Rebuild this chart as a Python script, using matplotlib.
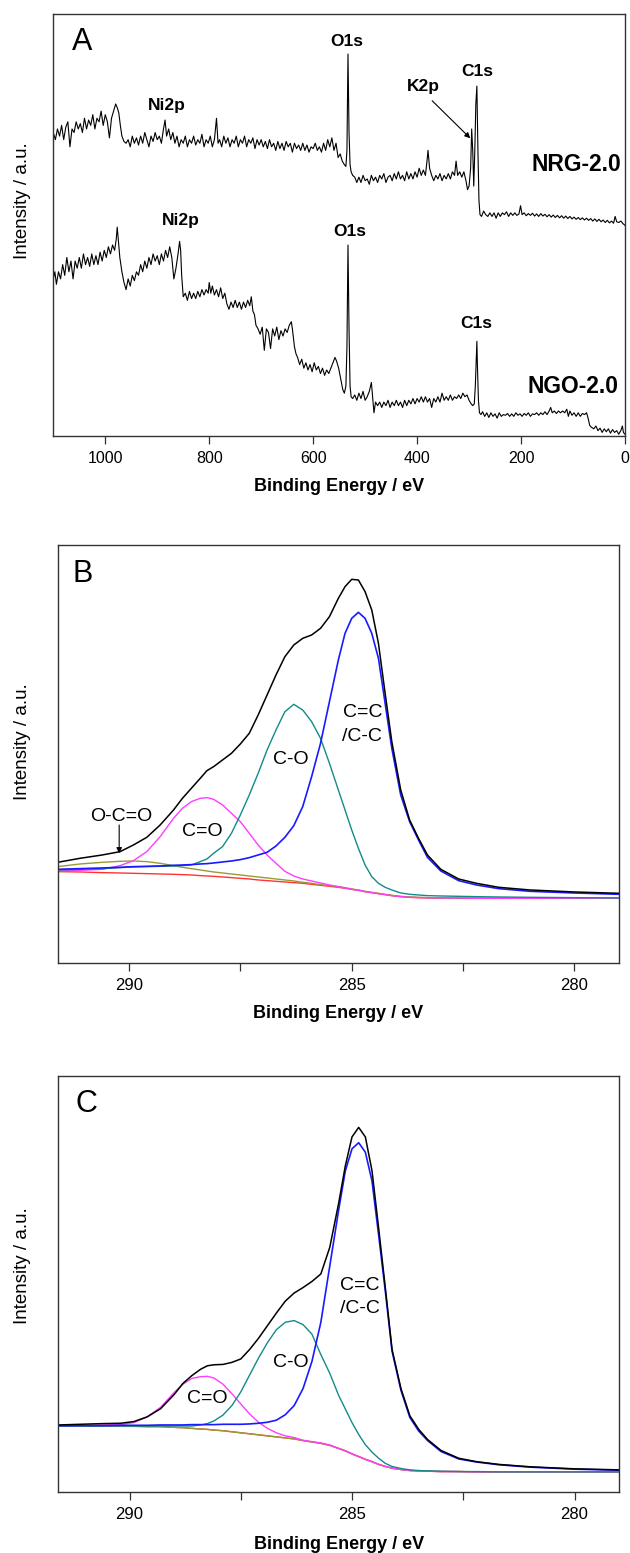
import matplotlib
matplotlib.use('Agg')
import matplotlib.pyplot as plt

plt.rcParams['font.family'] = ['Liberation Sans', 'DejaVu Sans']

# ---------------- Panel A data: XPS survey spectra (E in eV, intensity a.u.) ----------------
NRG_SURVEY = [
    (1100, 85), (1096, 83), (1092, 86), (1088, 84), (1084, 87), (1080, 83), (1076, 86.5), (1072, 88),
    (1068, 81), (1064, 86), (1060, 85), (1056, 88), (1052, 86), (1048, 87.5), (1044, 85), (1040, 89),
    (1036, 86), (1032, 88.5), (1028, 87), (1024, 90), (1020, 86), (1016, 89), (1012, 88), (1008, 91),
    (1004, 87), (1000, 90), (996, 88), (992, 83.5), (988, 89), (984, 91), (980, 93), (977, 92),
    (974, 90.5), (971, 87), (968, 84), (964, 82.5), (960, 82),
    (956, 83), (952, 81), (948, 84), (944, 82), (940, 83.5), (936, 81.5), (932, 84), (928, 82),
    (924, 85), (920, 83), (916, 81), (912, 84), (908, 82.5), (904, 85), (900, 83), (896, 84),
    (892, 82), (888, 86), (885, 88.5), (882, 84), (878, 86), (874, 83), (870, 85), (866, 82),
    (862, 84), (858, 81), (854, 83), (850, 82), (846, 84), (842, 81), (838, 83), (834, 82),
    (830, 84), (826, 81.5), (822, 83), (818, 82), (814, 84.5), (810, 81), (806, 83), (802, 82),
    (798, 84), (794, 81), (790, 83), (786, 89), (783, 82), (780, 83), (776, 81), (772, 84),
    (768, 82), (764, 83.5), (760, 81), (756, 83), (752, 82), (748, 84), (744, 81), (740, 83),
    (736, 82), (732, 84), (728, 81), (724, 83), (720, 82), (716, 83.5), (712, 80.5), (708, 83),
    (704, 81.5), (700, 83), (696, 81), (692, 82.5), (688, 80.5), (684, 83), (680, 81), (676, 82),
    (672, 80), (668, 82.5), (664, 80.5), (660, 82), (656, 80), (652, 82.5), (648, 81), (644, 82),
    (640, 79.5), (636, 82), (632, 80.5), (628, 81.5), (624, 80), (620, 82), (616, 80), (612, 81.5),
    (608, 79.5), (604, 81), (600, 80.5), (596, 82), (592, 80), (588, 81), (584, 79.5), (580, 82),
    (576, 80), (572, 83), (568, 81), (564, 83.5), (560, 80), (556, 82), (552, 78), (548, 79),
    (544, 77), (540, 76), (537, 75.5), (535, 80), (533, 107), (531, 85), (529, 76), (527, 74),
    (524, 73), (520, 72.5), (516, 71), (512, 72.5), (508, 71), (504, 73), (500, 71.5), (496, 72),
    (492, 70.5), (488, 73), (484, 71.5), (480, 72.5), (476, 71), (472, 73), (468, 72), (464, 73.5),
    (460, 71), (456, 72.5), (452, 73), (448, 71.5), (444, 73.5), (440, 72), (436, 74), (432, 72),
    (428, 73), (424, 71.5), (420, 74), (416, 72), (412, 73.5), (408, 72), (404, 74), (400, 72.5),
    (396, 75), (392, 73), (388, 74.5), (384, 73), (381, 77), (379, 80), (376, 75), (372, 73),
    (368, 71.5), (364, 73), (360, 72), (356, 73.5), (352, 71.5), (348, 73), (344, 72), (340, 73.5),
    (336, 72), (332, 74), (328, 73), (325, 77), (322, 73), (318, 74), (314, 72.5), (310, 74),
    (306, 71.5), (303, 69), (300, 70), (297, 75), (295, 86), (293, 80), (291, 70), (289, 80),
    (287, 93), (285, 98), (283, 80), (281, 66), (279, 62), (276, 61.5), (272, 63), (268, 62),
    (264, 61.5), (260, 62.5), (256, 61.5), (252, 62.5), (248, 61), (244, 62.5), (240, 61.5),
    (236, 62.5), (232, 62), (228, 62.8), (224, 61.5), (220, 62.5), (216, 61.8), (212, 62.5),
    (208, 61.8), (204, 62.2), (201, 64.5), (198, 62), (194, 62.5), (190, 61.7), (186, 62.3),
    (182, 61.8), (178, 62.4), (174, 61.6), (170, 62.2), (166, 61.5), (162, 62.3), (158, 61.6),
    (154, 62.1), (150, 61.4), (146, 62), (142, 61.3), (138, 61.9), (134, 61.2), (130, 61.8),
    (126, 61.1), (122, 61.7), (118, 61), (114, 61.6), (110, 60.9), (106, 61.5), (102, 60.8),
    (98, 61.3), (94, 60.7), (90, 61.2), (86, 60.6), (82, 61.1), (78, 60.5), (74, 61), (70, 60.4),
    (66, 60.9), (62, 60.2), (58, 60.8), (54, 60.1), (50, 60.7), (46, 60), (42, 60.5), (38, 59.8),
    (34, 60.4), (30, 59.7), (26, 60.2), (22, 59.6), (19, 61.5), (16, 60), (12, 59.8), (8, 60.2),
    (4, 59.5), (0, 59),
]

NGO_SURVEY = [
    (1100, 44), (1097, 46), (1094, 42.5), (1090, 46), (1086, 44), (1082, 48), (1078, 45), (1074, 50),
    (1070, 46), (1066, 49), (1062, 44), (1058, 49), (1054, 47), (1050, 50), (1046, 47), (1042, 51),
    (1038, 48), (1034, 50), (1030, 47.5), (1026, 51), (1022, 48), (1018, 50.5), (1014, 48),
    (1010, 51.5), (1006, 49), (1002, 52), (998, 50), (994, 53), (990, 51), (986, 53.5), (982, 52),
    (979, 55), (977, 58.5), (975, 55), (972, 50), (968, 46), (964, 43), (960, 41), (956, 44),
    (952, 42), (948, 45), (944, 43.5), (940, 46), (936, 45), (932, 48), (928, 46), (924, 49),
    (920, 47), (916, 50), (912, 48), (908, 51), (904, 49), (900, 50.5), (896, 48), (892, 51),
    (888, 49), (884, 52), (880, 50), (876, 53), (872, 50), (868, 44), (864, 47), (860, 51),
    (857, 54.5), (855, 52), (853, 45), (850, 39), (846, 40), (842, 38), (838, 40.5), (834, 38.5),
    (830, 40), (826, 38.5), (822, 40.5), (818, 39), (814, 41), (810, 39.5), (806, 41), (802, 40),
    (800, 43), (797, 40), (794, 42), (790, 39.5), (786, 41), (782, 39), (778, 41.5), (774, 38.5),
    (770, 40), (766, 37), (762, 35.5), (758, 37.5), (754, 36), (750, 38), (746, 36), (742, 37.5),
    (738, 35.5), (734, 37.5), (730, 36), (726, 38), (722, 36.5), (719, 39), (716, 35), (713, 34),
    (710, 31), (706, 30), (702, 28.5), (698, 30.5), (694, 24), (690, 30), (686, 29), (682, 24.5),
    (678, 30), (674, 28), (670, 30.5), (666, 27), (662, 29.5), (658, 28), (654, 30), (650, 29),
    (646, 31), (642, 32), (640, 30), (636, 25), (633, 23), (630, 22), (626, 20), (622, 21.5),
    (618, 19), (614, 20.5), (610, 18.5), (606, 20), (602, 18), (598, 20.5), (594, 18.5),
    (590, 19.5), (586, 17.5), (582, 19), (578, 17), (574, 18.5), (570, 17.5), (566, 19),
    (562, 20.5), (558, 22), (555, 21), (551, 19), (547, 16), (543, 13), (540, 12), (537, 14),
    (535, 25), (533, 53.5), (531, 30), (529, 14), (527, 11), (524, 10.5), (520, 11.5), (516, 10),
    (512, 12), (508, 10.5), (504, 12.5), (500, 10), (496, 11), (492, 12.5), (488, 15), (485, 10),
    (483, 6.5), (480, 9.5), (476, 8.5), (472, 9.5), (468, 8), (464, 9.5), (460, 8.5), (456, 10),
    (452, 8), (448, 9.5), (444, 8.5), (440, 10), (436, 8.5), (432, 9.5), (428, 8), (424, 10),
    (420, 8.5), (416, 10), (412, 9), (408, 10.5), (404, 9), (400, 10.5), (396, 9.5), (392, 11),
    (388, 9.5), (384, 11), (380, 9.5), (376, 10.5), (372, 8), (368, 10.5), (364, 9.5), (360, 11),
    (356, 9.5), (352, 12), (348, 10), (344, 11), (340, 10), (336, 11.5), (332, 10), (328, 11),
    (324, 10.5), (320, 11.5), (316, 10.5), (312, 12), (308, 11), (304, 11.5), (300, 10), (296, 9),
    (293, 8.5), (290, 9), (288, 14), (286, 22), (285, 26.5), (284, 20), (282, 10), (280, 6.5),
    (277, 6), (274, 6.8), (270, 5.5), (266, 6.5), (262, 5.2), (258, 6.5), (254, 5.5), (250, 6.2),
    (246, 5), (242, 6.5), (238, 5.5), (234, 6), (230, 5.8), (226, 6.3), (222, 5.5), (218, 6.2),
    (214, 5.5), (210, 6.5), (206, 5.8), (202, 6.2), (198, 5.5), (194, 6.3), (190, 5.8), (186, 6.5),
    (182, 5.5), (178, 6.2), (174, 6), (170, 6.5), (166, 5.8), (162, 6.5), (158, 6), (154, 6.8),
    (150, 6), (146, 7), (143, 8), (140, 6.5), (136, 7), (132, 6.3), (128, 7), (124, 6.5), (120, 7),
    (116, 6.5), (112, 7.5), (109, 5.5), (106, 7), (102, 5.8), (98, 6.5), (94, 5.5), (90, 6.5),
    (86, 5.5), (82, 6.3), (78, 6), (74, 6.5), (71, 5), (68, 3), (65, 2.5), (60, 2), (56, 2.8),
    (52, 1.5), (48, 2.2), (44, 1), (40, 2), (36, 1.2), (32, 2), (28, 0.8), (24, 1.8), (20, 1),
    (16, 1.5), (12, 0.5), (8, 1.5), (5, 2.8), (3, 1), (0, 0.5),
]

A_TICKS = [1000, 800, 600, 400, 200, 0]

# ---------------- Panels B and C: C1s peak fits (shared energy grid) ----------------
E_C1S = [291.6, 291.1, 290.6, 290.2, 289.9, 289.6, 289.3, 289.0, 288.8, 288.6, 288.4, 288.25,
         288.1, 287.9, 287.7, 287.5, 287.3, 287.1, 286.9, 286.7, 286.5, 286.3, 286.1, 285.9,
         285.7, 285.5, 285.3, 285.15, 285.0, 284.85, 284.7, 284.55, 284.4, 284.25, 284.1, 283.9,
         283.7, 283.5, 283.3, 283.0, 282.6, 282.2, 281.7, 281.0, 280.0, 279.0]

B_ENVELOPE = [30.3, 31.5, 32.5, 33.5, 35.5, 37.8, 41.5, 46, 49.5, 52.5, 55.5, 57.8,
              59, 61, 63, 65.8, 69, 74.5, 80.5, 86.5, 92, 95.5, 97.5, 98.5,
              100.5, 104, 109.5, 113, 115.2, 115, 111.5, 106, 96, 81, 66.5, 52,
              43, 37.5, 32.5, 28.2, 25.3, 24, 22.8, 22.0, 21.4, 21.0]
B_CC = [28.2, 28.4, 28.6, 28.8, 29, 29.1, 29.2, 29.4, 29.5, 29.6, 29.8, 29.9,
        30.1, 30.4, 30.7, 31.1, 31.7, 32.5, 33.3, 35.2, 37.8, 41.3, 47, 56,
        66, 78.5, 91, 99, 103.5, 105.3, 103.5, 99, 91.5, 78, 64.5, 50.5,
        42.5, 37, 31.8, 27.7, 24.8, 23.5, 22.4, 21.6, 21.1, 20.7]
B_CO = [28, 28.2, 28.4, 28.7, 28.9, 29, 29.1, 29.2, 29.3, 29.5, 30.5, 31.3,
        33, 35, 39, 44.5, 50.5, 57, 64, 70, 75.5, 77.7, 76, 72.5,
        67.5, 60, 52, 46, 40, 34.5, 29.5, 26, 24, 22.8, 22, 21.1,
        20.7, 20.5, 20.3, 20.2, 20.1, 20, 19.9, 19.8, 19.7, 19.6]
B_C_O_DOUBLE = [27.7, 27.9, 28.2, 29.3, 30.8, 33.5, 38, 43.5, 46.5, 48.5, 49.5, 49.7,
                49.2, 47.5, 45, 42.5, 39, 35.5, 32.5, 30, 27.6, 26.2, 25.3, 24.7,
                24.1, 23.5, 23, 22.6, 22.2, 21.9, 21.5, 21.2, 20.9, 20.6, 20.3, 20.0,
                19.8, 19.7, 19.7, 19.6, 19.6, 19.5, 19.5, 19.5, 19.5, 19.5]
B_OCO = [29, 29.8, 30.3, 30.6, 30.7, 30.5, 30, 29.3, 28.8, 28.4, 28, 27.7,
         27.4, 27.1, 26.8, 26.5, 26.2, 25.9, 25.6, 25.3, 25, 24.7, 24.3, 24,
         23.6, 23.3, 23, 22.7, 22.3, 22, 21.6, 21.3, 21, 20.7, 20.4, 20.1,
         19.9, 19.8, 19.7, 19.6, 19.6, 19.5, 19.5, 19.5, 19.5, 19.5]
B_BACKGROUND = [27.5, 27.4, 27.2, 27.1, 27, 26.9, 26.8, 26.7, 26.6, 26.5, 26.3, 26.2,
                26.1, 25.9, 25.7, 25.5, 25.3, 25.0, 24.8, 24.6, 24.4, 24.2, 24, 23.7,
                23.4, 23.1, 22.8, 22.5, 22.2, 21.9, 21.5, 21.2, 20.9, 20.6, 20.3, 20.0,
                19.8, 19.7, 19.6, 19.6, 19.5, 19.5, 19.5, 19.5, 19.5, 19.5]

C_ENVELOPE = [19.8, 20, 20.2, 20.3, 20.8, 22.2, 24.6, 28.7, 32, 34.3, 36.2, 37.2,
              37.5, 37.6, 38.2, 39.2, 42, 45.3, 49, 52.7, 56.2, 58.6, 60.2, 62,
              64.2, 72, 85, 96, 104.5, 107.3, 104.5, 94.5, 77.5, 60, 42, 30.5,
              22.5, 18.5, 15.5, 12.3, 10, 9, 8.2, 7.5, 6.9, 6.6]
C_CC = [19.6, 19.6, 19.6, 19.7, 19.7, 19.7, 19.8, 19.8, 19.8, 19.9, 19.9, 19.9,
        19.9, 20, 20, 20, 20.1, 20.3, 20.6, 21.2, 22.8, 25.5, 30.5, 38.5,
        50, 66.5, 83, 94.5, 101, 102.8, 100, 91.5, 75.5, 59, 41.5, 30,
        22, 18, 15.2, 12, 9.8, 8.9, 8.1, 7.4, 6.8, 6.5]
C_CO = [19.5, 19.5, 19.5, 19.5, 19.5, 19.5, 19.5, 19.5, 19.5, 19.5, 19.8, 20.2,
        21, 22.7, 25.5, 29.5, 34.5, 39.5, 44, 47.8, 50, 50.5, 49.3, 46.5,
        40.5, 35, 28.5, 24.5, 20.5, 17, 14, 11.8, 10, 8.5, 7.6, 7,
        6.6, 6.4, 6.3, 6.2, 6.1, 6.1, 6, 6, 6, 6]
C_C_O_DOUBLE = [19.5, 19.6, 19.8, 19.9, 20.5, 22.2, 25, 29.3, 31.8, 33.5, 34, 34.1,
                33.6, 31.8, 29, 26, 23, 20.6, 18.8, 17.5, 16.6, 16.1, 15.3, 14.9,
                14.5, 13.9, 12.9, 12.2, 11.3, 10.5, 9.7, 9, 8.2, 7.6, 7.1, 6.7,
                6.4, 6.3, 6.2, 6.1, 6.1, 6, 6, 6, 6, 6]
C_BACKGROUND = [19.5, 19.5, 19.5, 19.4, 19.4, 19.3, 19.3, 19.1, 19.0, 18.8, 18.6, 18.5,
                18.3, 18.1, 17.8, 17.5, 17.2, 16.9, 16.6, 16.3, 16, 15.7, 15.2, 14.8,
                14.4, 13.8, 12.9, 12.2, 11.3, 10.5, 9.7, 9, 8.2, 7.6, 7.1, 6.7,
                6.4, 6.3, 6.2, 6.1, 6.1, 6, 6, 6, 6, 6]

C1S_MAJOR = [290, 285, 280]
C1S_MINOR = [287.5, 282.5]

# ---------------- Figure ----------------
W, H = 630, 1553
fig = plt.figure(figsize=(W / 100, H / 100), dpi=100)


def px_axes(l, t, r, b):
    return fig.add_axes([l / W, 1 - b / H, (r - l) / W, (b - t) / H])


axA = px_axes(53.3, 14, 625, 436)
axB = px_axes(57.7, 545, 619, 963.3)
axC = px_axes(58.3, 1075.7, 619, 1492.3)

FRAME = '#333333'
for ax in (axA, axB, axC):
    for s in ax.spines.values():
        s.set_color(FRAME)
        s.set_linewidth(1.0)
    ax.set_yticks([])
    ax.tick_params(axis='x', which='both', direction='out', length=5.8, width=0.9,
                   color=FRAME, labelsize=11, top=False)

# ---- Panel A ----
for series in (NRG_SURVEY, NGO_SURVEY):
    ax_e = [p[0] for p in series]
    ax_i = [p[1] for p in series]
    axA.plot(ax_e, ax_i, color='black', lw=0.8)
axA.set_xlim(1100, 0)
axA.set_ylim(0, 118.2)
axA.set_xticks(A_TICKS)
axA.tick_params(axis='x', pad=5.3, labelsize=11.5)

bold = dict(fontweight='bold', fontsize=12.5, ha='center', va='baseline', color='black')
axA.text(881.7, 91.2, 'Ni2p', **bold)
axA.text(536, 109.2, 'O1s', **bold)
axA.text(388, 96.7, 'K2p', **bold)
axA.text(283.8, 100.9, 'C1s', **bold)
axA.text(854.6, 59.2, 'Ni2p', **bold)
axA.text(529.8, 55.9, 'O1s', **bold)
axA.text(286, 30.2, 'C1s', **bold)
axA.text(7.7, 74.2, 'NRG-2.0', fontweight='bold', fontsize=16.5, ha='right', va='baseline')
axA.text(11.6, 12, 'NGO-2.0', fontweight='bold', fontsize=16.5, ha='right', va='baseline')
axA.annotate('', xy=(297.7, 83.4), xytext=(371, 93.9),
             arrowprops=dict(arrowstyle='-|>', lw=0.8, color='black', mutation_scale=8,
                             shrinkA=0, shrinkB=0))
axA.text(0.033, 0.915, 'A', transform=axA.transAxes, fontsize=22, va='baseline', ha='left')

# ---- Panels B and C ----
COL_BG = '#ff3333'
COL_OLIVE = '#9a9a35'
COL_MAG = '#ff3cff'
COL_TEAL = '#138a8a'
COL_BLUE = '#1a1aff'

axB.plot(E_C1S, B_BACKGROUND, color=COL_BG, lw=1.0)
axB.plot(E_C1S, B_OCO, color=COL_OLIVE, lw=1.0)
axB.plot(E_C1S, B_C_O_DOUBLE, color=COL_MAG, lw=1.0)
axB.plot(E_C1S, B_CO, color=COL_TEAL, lw=1.0)
axB.plot(E_C1S, B_CC, color=COL_BLUE, lw=1.2)
axB.plot(E_C1S, B_ENVELOPE, color='black', lw=1.1)
axB.set_xlim(291.6, 279.0)
axB.set_ylim(0, 125.5)

axC.plot(E_C1S, C_BACKGROUND, color=COL_BG, lw=1.0)
axC.plot(E_C1S, C_BACKGROUND, color=COL_OLIVE, lw=1.0)
axC.plot(E_C1S, C_C_O_DOUBLE, color=COL_MAG, lw=1.0)
axC.plot(E_C1S, C_CO, color=COL_TEAL, lw=1.0)
axC.plot(E_C1S, C_CC, color=COL_BLUE, lw=1.2)
axC.plot(E_C1S, C_ENVELOPE, color='black', lw=1.1)
axC.set_xlim(291.6, 279.0)
axC.set_ylim(0, 122.5)

for ax in (axB, axC):
    ax.set_xticks(C1S_MAJOR)
    ax.set_xticks(C1S_MINOR, minor=True)
    ax.tick_params(axis='x', which='both', length=5.8, pad=4.5, labelsize=12)
    ax.tick_params(axis='x', which='minor', labelbottom=False)

norm = dict(fontsize=14, ha='center', va='center', color='black')
axB.text(290.18, 44, 'O-C=O', **norm)
axB.annotate('', xy=(290.22, 33), xytext=(290.22, 41.5),
             arrowprops=dict(arrowstyle='-|>', lw=0.8, color='black', mutation_scale=8,
                             shrinkA=0, shrinkB=0))
axB.text(288.35, 39.5, 'C=O', **norm)
axB.text(286.36, 61, 'C-O', **norm)
axB.text(284.76, 75.3, 'C=C', **norm)
axB.text(284.76, 68, '/C-C', **norm)
axB.text(0.026, 0.912, 'B', transform=axB.transAxes, fontsize=22, va='baseline', ha='left')

axC.text(288.26, 27.6, 'C=O', **norm)
axC.text(286.38, 38.3, 'C-O', **norm)
axC.text(284.83, 60.8, 'C=C', **norm)
axC.text(284.83, 54, '/C-C', **norm)
axC.text(0.03, 0.912, 'C', transform=axC.transAxes, fontsize=22, va='baseline', ha='left')

# ---- axis labels ----
for ax, ylc, xly in ((axA, (-0.0394, 0.557), -0.1), (axB, (-0.0479, 0.529), -0.1),
                     (axC, (-0.049, 0.543), -0.105)):
    ax.set_xlabel('Binding Energy / eV', fontsize=13, fontweight='bold')
    ax.set_ylabel('Intensity / a.u.', fontsize=13.5)
    ax.xaxis.set_label_coords(0.5, xly)
    ax.yaxis.set_label_coords(*ylc)

fig.savefig('out.png', dpi=100)
